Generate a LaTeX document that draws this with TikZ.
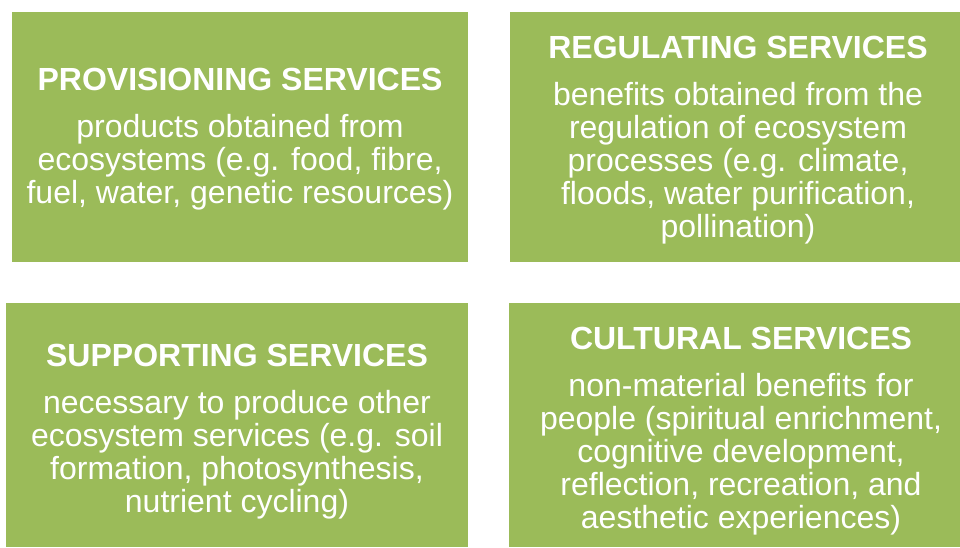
\documentclass[tikz,border=0pt]{standalone}
\usepackage{fontspec}
\setmainfont{Liberation Sans}
\definecolor{boxgreen}{HTML}{9BBB59}
\begin{document}
\begin{tikzpicture}[x=1pt,y=-1pt,
  box/.style={fill=boxgreen, draw=none, inner sep=0pt, anchor=north west},
  title/.style={text=white, inner sep=0pt, anchor=base, font=\bfseries\fontsize{32}{32.8}\selectfont},
  body/.style={text=white, inner sep=0pt, anchor=base, align=center, font=\fontsize{32}{32.8}\selectfont}]
\useasboundingbox[fill=white] (0,0) rectangle (960,547);
% boxes
\node[box, minimum width=456pt, minimum height=250pt] (prov) at (12,12) {};
\node[box, minimum width=450pt, minimum height=250pt] (reg) at (510,12) {};
\node[box, minimum width=462pt, minimum height=244pt] (supp) at (6,303) {};
\node[box, minimum width=451pt, minimum height=244pt] (cult) at (509,303) {};
% texts (body nodes anchored at the baseline of their last line)
\node[title] (provT) at (240,90) {PROVISIONING SERVICES};
\node[body] (provB) at (240,203) {products obtained from\\ecosystems (e.g. food, fibre,\\fuel, water, genetic resources)};
\node[title] (regT) at (738,58) {REGULATING SERVICES};
\node[body] (regB) at (738,237) {benefits obtained from the\\regulation of ecosystem\\processes (e.g. climate,\\floods, water purification,\\pollination)};
\node[title] (suppT) at (237,366) {SUPPORTING SERVICES};
\node[body] (suppB) at (237,512) {necessary to produce other\\ecosystem services (e.g. soil\\formation, photosynthesis,\\nutrient cycling)};
\node[title] (cultT) at (741,349) {CULTURAL SERVICES};
\node[body] (cultB) at (741,528) {non-material benefits for\\people (spiritual enrichment,\\cognitive development,\\reflection, recreation, and\\aesthetic experiences)};
\end{tikzpicture}
\end{document}
